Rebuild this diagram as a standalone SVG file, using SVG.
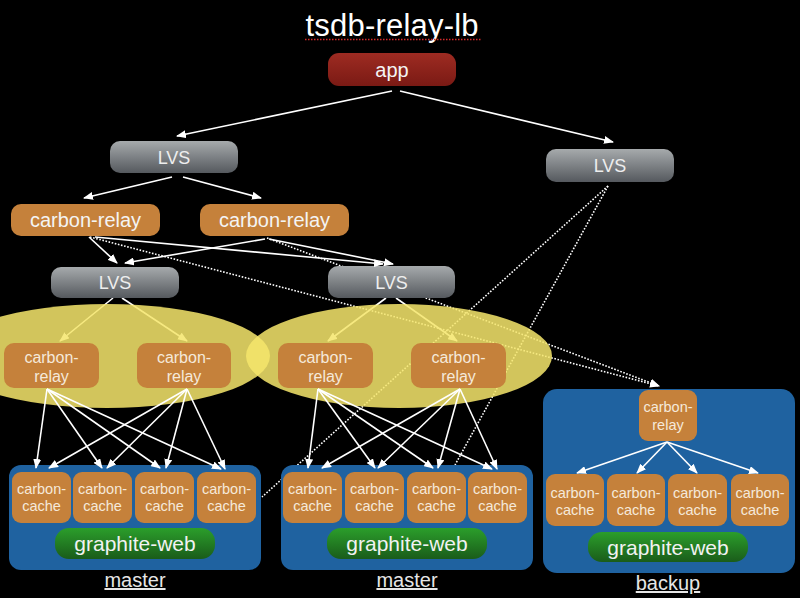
<svg xmlns="http://www.w3.org/2000/svg" width="800" height="598" viewBox="0 0 800 598">
<defs>
  <linearGradient id="gGray" x1="0" y1="0" x2="0" y2="1">
    <stop offset="0" stop-color="#a6aaac"/>
    <stop offset="1" stop-color="#55595e"/>
  </linearGradient>
  <linearGradient id="gRed" x1="0" y1="0" x2="0" y2="1">
    <stop offset="0" stop-color="#9e2b22"/>
    <stop offset="1" stop-color="#7a1a14"/>
  </linearGradient>
  <linearGradient id="gGreen" x1="0" y1="0" x2="0" y2="1">
    <stop offset="0" stop-color="#2b9e2b"/>
    <stop offset="1" stop-color="#1a5c1a"/>
  </linearGradient>
  <marker id="arr" markerUnits="userSpaceOnUse" markerWidth="10" markerHeight="8" refX="9" refY="4" orient="auto">
    <path d="M0,0 L10,4 L0,8 z" fill="#ffffff"/>
  </marker>
  <style>
    text { font-family: "Liberation Sans", Arial, sans-serif; text-anchor: middle; }
    .title { font-size: 31px; fill: #ffffff; }
    .lbl { font-size: 20px; fill: #f4f4f4; }
    .lvs { font-size: 18px; fill: #eeeeee; }
    .small { font-size: 16px; fill: #f5e9da; }
    .cache { font-size: 14.5px; fill: #f5e9da; }
    .gw { font-size: 21px; fill: #f2f2f2; }
    .site { font-size: 20px; fill: #e6e6e6; text-decoration: underline; }
    .gray { fill: url(#gGray); }
    .orange { fill: #c5813b; }
    .blue { fill: #1f62a0; }
    .green { fill: url(#gGreen); }
    .ell { fill: #f5e56b; fill-opacity: 0.86; }
    .c { stroke: #ffffff; stroke-width: 1.6; fill: none; marker-end: url(#arr); }
    .d { stroke: #ffffff; stroke-width: 1.6; fill: none; stroke-dasharray: 1.6 1.6; }
    .da { stroke: #ffffff; stroke-width: 1.6; fill: none; stroke-dasharray: 1.6 1.6; marker-end: url(#arr); }
  </style>
</defs>
<rect x="0" y="0" width="800" height="598" fill="#000000"/>

<g id="title">
  <text class="title" x="392" y="36" textLength="173">tsdb-relay-lb</text>
  <line x1="305" y1="39.5" x2="482" y2="39.5" stroke="#d42a2a" stroke-width="1.5" stroke-dasharray="1.5 1.5"/>
</g>

<g id="connectors-back">
  <path class="c" d="M113,298 L60,341"/>
  <path class="c" d="M122,298 L187,341"/>
  <path class="c" d="M386,298 L328,341"/>
  <path class="c" d="M396,298 L457,341"/>
  <path class="da" d="M90,237 L659,386"/>
  <path class="da" d="M267,238 L659,386"/>
  <path class="d" d="M608,186 L262,497"/>
  <path class="d" d="M608,186 L455,465"/>
</g>

<g id="groups">
  <ellipse class="ell" cx="107" cy="356" rx="163" ry="52"/>
  <ellipse class="ell" cx="399" cy="356" rx="153" ry="52"/>
</g>

<g id="app">
  <rect x="328" y="53" width="128" height="33" rx="11" fill="url(#gRed)"/>
  <text class="lbl" x="392" y="77">app</text>
</g>
<g id="lvs-top-left">
  <rect class="gray" x="110" y="141" width="128" height="32" rx="10"/>
  <text class="lvs" x="174" y="164">LVS</text>
</g>
<g id="lvs-top-right">
  <rect class="gray" x="546" y="149" width="128" height="33" rx="10"/>
  <text class="lvs" x="610" y="172">LVS</text>
</g>
<g id="relay-top-1">
  <rect class="orange" x="11" y="204" width="149" height="32" rx="10"/>
  <text class="lbl" x="85.5" y="227">carbon-relay</text>
</g>
<g id="relay-top-2">
  <rect class="orange" x="200" y="204" width="149" height="32" rx="10"/>
  <text class="lbl" x="274.5" y="227">carbon-relay</text>
</g>
<g id="lvs-mid-left">
  <rect class="gray" x="51" y="267" width="128" height="31" rx="10"/>
  <text class="lvs" x="115" y="289">LVS</text>
</g>
<g id="lvs-mid-right">
  <rect class="gray" x="328" y="266" width="127" height="32" rx="10"/>
  <text class="lvs" x="391.5" y="289">LVS</text>
</g>

<g id="relay-a1">
  <rect class="orange" x="4" y="343" width="95" height="45" rx="10"/>
  <text class="small" x="51.5" y="363">carbon-</text>
  <text class="small" x="51.5" y="382">relay</text>
</g>
<g id="relay-a2">
  <rect class="orange" x="137" y="343" width="94" height="45" rx="10"/>
  <text class="small" x="184" y="363">carbon-</text>
  <text class="small" x="184" y="382">relay</text>
</g>
<g id="relay-b1">
  <rect class="orange" x="278" y="343" width="95" height="45" rx="10"/>
  <text class="small" x="325.5" y="363">carbon-</text>
  <text class="small" x="325.5" y="382">relay</text>
</g>
<g id="relay-b2">
  <rect class="orange" x="411" y="343" width="95" height="45" rx="10"/>
  <text class="small" x="458.5" y="363">carbon-</text>
  <text class="small" x="458.5" y="382">relay</text>
</g>

<g id="master-1">
  <rect class="blue" x="9" y="465" width="252" height="105" rx="12"/>
  <rect class="orange" x="12" y="472" width="59" height="51" rx="9"/>
  <text class="cache" x="41.5" y="494">carbon-</text><text class="cache" x="41.5" y="511">cache</text>
  <rect class="orange" x="73" y="472" width="59" height="51" rx="9"/>
  <text class="cache" x="102.5" y="494">carbon-</text><text class="cache" x="102.5" y="511">cache</text>
  <rect class="orange" x="135" y="472" width="59" height="51" rx="9"/>
  <text class="cache" x="164.5" y="494">carbon-</text><text class="cache" x="164.5" y="511">cache</text>
  <rect class="orange" x="197" y="472" width="59" height="51" rx="9"/>
  <text class="cache" x="226.5" y="494">carbon-</text><text class="cache" x="226.5" y="511">cache</text>
  <rect class="green" x="55" y="528" width="160" height="31" rx="14"/>
  <text class="gw" x="135" y="551">graphite-web</text>
  <text class="site" x="135" y="587">master</text>
</g>

<g id="master-2">
  <rect class="blue" x="281" y="465" width="252" height="105" rx="12"/>
  <rect class="orange" x="283" y="472" width="59" height="51" rx="9"/>
  <text class="cache" x="312.5" y="494">carbon-</text><text class="cache" x="312.5" y="511">cache</text>
  <rect class="orange" x="345" y="472" width="59" height="51" rx="9"/>
  <text class="cache" x="374.5" y="494">carbon-</text><text class="cache" x="374.5" y="511">cache</text>
  <rect class="orange" x="407" y="472" width="59" height="51" rx="9"/>
  <text class="cache" x="436.5" y="494">carbon-</text><text class="cache" x="436.5" y="511">cache</text>
  <rect class="orange" x="468" y="472" width="59" height="51" rx="9"/>
  <text class="cache" x="497.5" y="494">carbon-</text><text class="cache" x="497.5" y="511">cache</text>
  <rect class="green" x="327" y="528" width="160" height="31" rx="14"/>
  <text class="gw" x="407" y="551">graphite-web</text>
  <text class="site" x="407" y="587">master</text>
</g>

<g id="backup">
  <rect class="blue" x="543" y="389" width="252" height="184" rx="14"/>
  <rect class="orange" x="639" y="390" width="58" height="51" rx="9"/>
  <text class="cache" x="668" y="412">carbon-</text><text class="cache" x="668" y="430">relay</text>
  <rect class="orange" x="546" y="474" width="58" height="52" rx="9"/>
  <text class="cache" x="575" y="498">carbon-</text><text class="cache" x="575" y="515">cache</text>
  <rect class="orange" x="607" y="474" width="58" height="52" rx="9"/>
  <text class="cache" x="636" y="498">carbon-</text><text class="cache" x="636" y="515">cache</text>
  <rect class="orange" x="668" y="474" width="59" height="52" rx="9"/>
  <text class="cache" x="697.5" y="498">carbon-</text><text class="cache" x="697.5" y="515">cache</text>
  <rect class="orange" x="731" y="474" width="58" height="52" rx="9"/>
  <text class="cache" x="760" y="498">carbon-</text><text class="cache" x="760" y="515">cache</text>
  <rect class="green" x="588" y="532" width="160" height="30" rx="14"/>
  <text class="gw" x="668" y="555">graphite-web</text>
  <text class="site" x="668" y="590">backup</text>
</g>

<g id="connectors">
  <path class="c" d="M392,91 L177,136"/>
  <path class="c" d="M400,91 L613,142"/>
  <path class="c" d="M172,177 L84,198"/>
  <path class="c" d="M183,177 L261,198"/>
  <path class="c" d="M89,237 L117,263"/>
  <path class="c" d="M95,237 L383,264"/>
  <path class="c" d="M265,239 L125,263"/>
  <path class="c" d="M269,239 L393,264"/>

  <path class="c" d="M47,389 L36,468"/>
  <path class="c" d="M47,389 L102,468"/>
  <path class="c" d="M47,389 L160,468"/>
  <path class="c" d="M47,389 L221,469"/>
  <path class="c" d="M187,389 L49,468"/>
  <path class="c" d="M187,389 L107,468"/>
  <path class="c" d="M187,389 L166,468"/>
  <path class="c" d="M187,389 L225,469"/>

  <path class="c" d="M318,389 L308,468"/>
  <path class="c" d="M318,389 L375,468"/>
  <path class="c" d="M318,389 L433,468"/>
  <path class="c" d="M318,389 L492,469"/>
  <path class="c" d="M460,389 L322,468"/>
  <path class="c" d="M460,389 L378,468"/>
  <path class="c" d="M460,389 L438,468"/>
  <path class="c" d="M460,389 L497,469"/>

  <path class="c" d="M667,442 L577,473"/>
  <path class="c" d="M667,442 L637,473"/>
  <path class="c" d="M667,442 L697,473"/>
  <path class="c" d="M667,442 L758,473"/>
</g>
</svg>
